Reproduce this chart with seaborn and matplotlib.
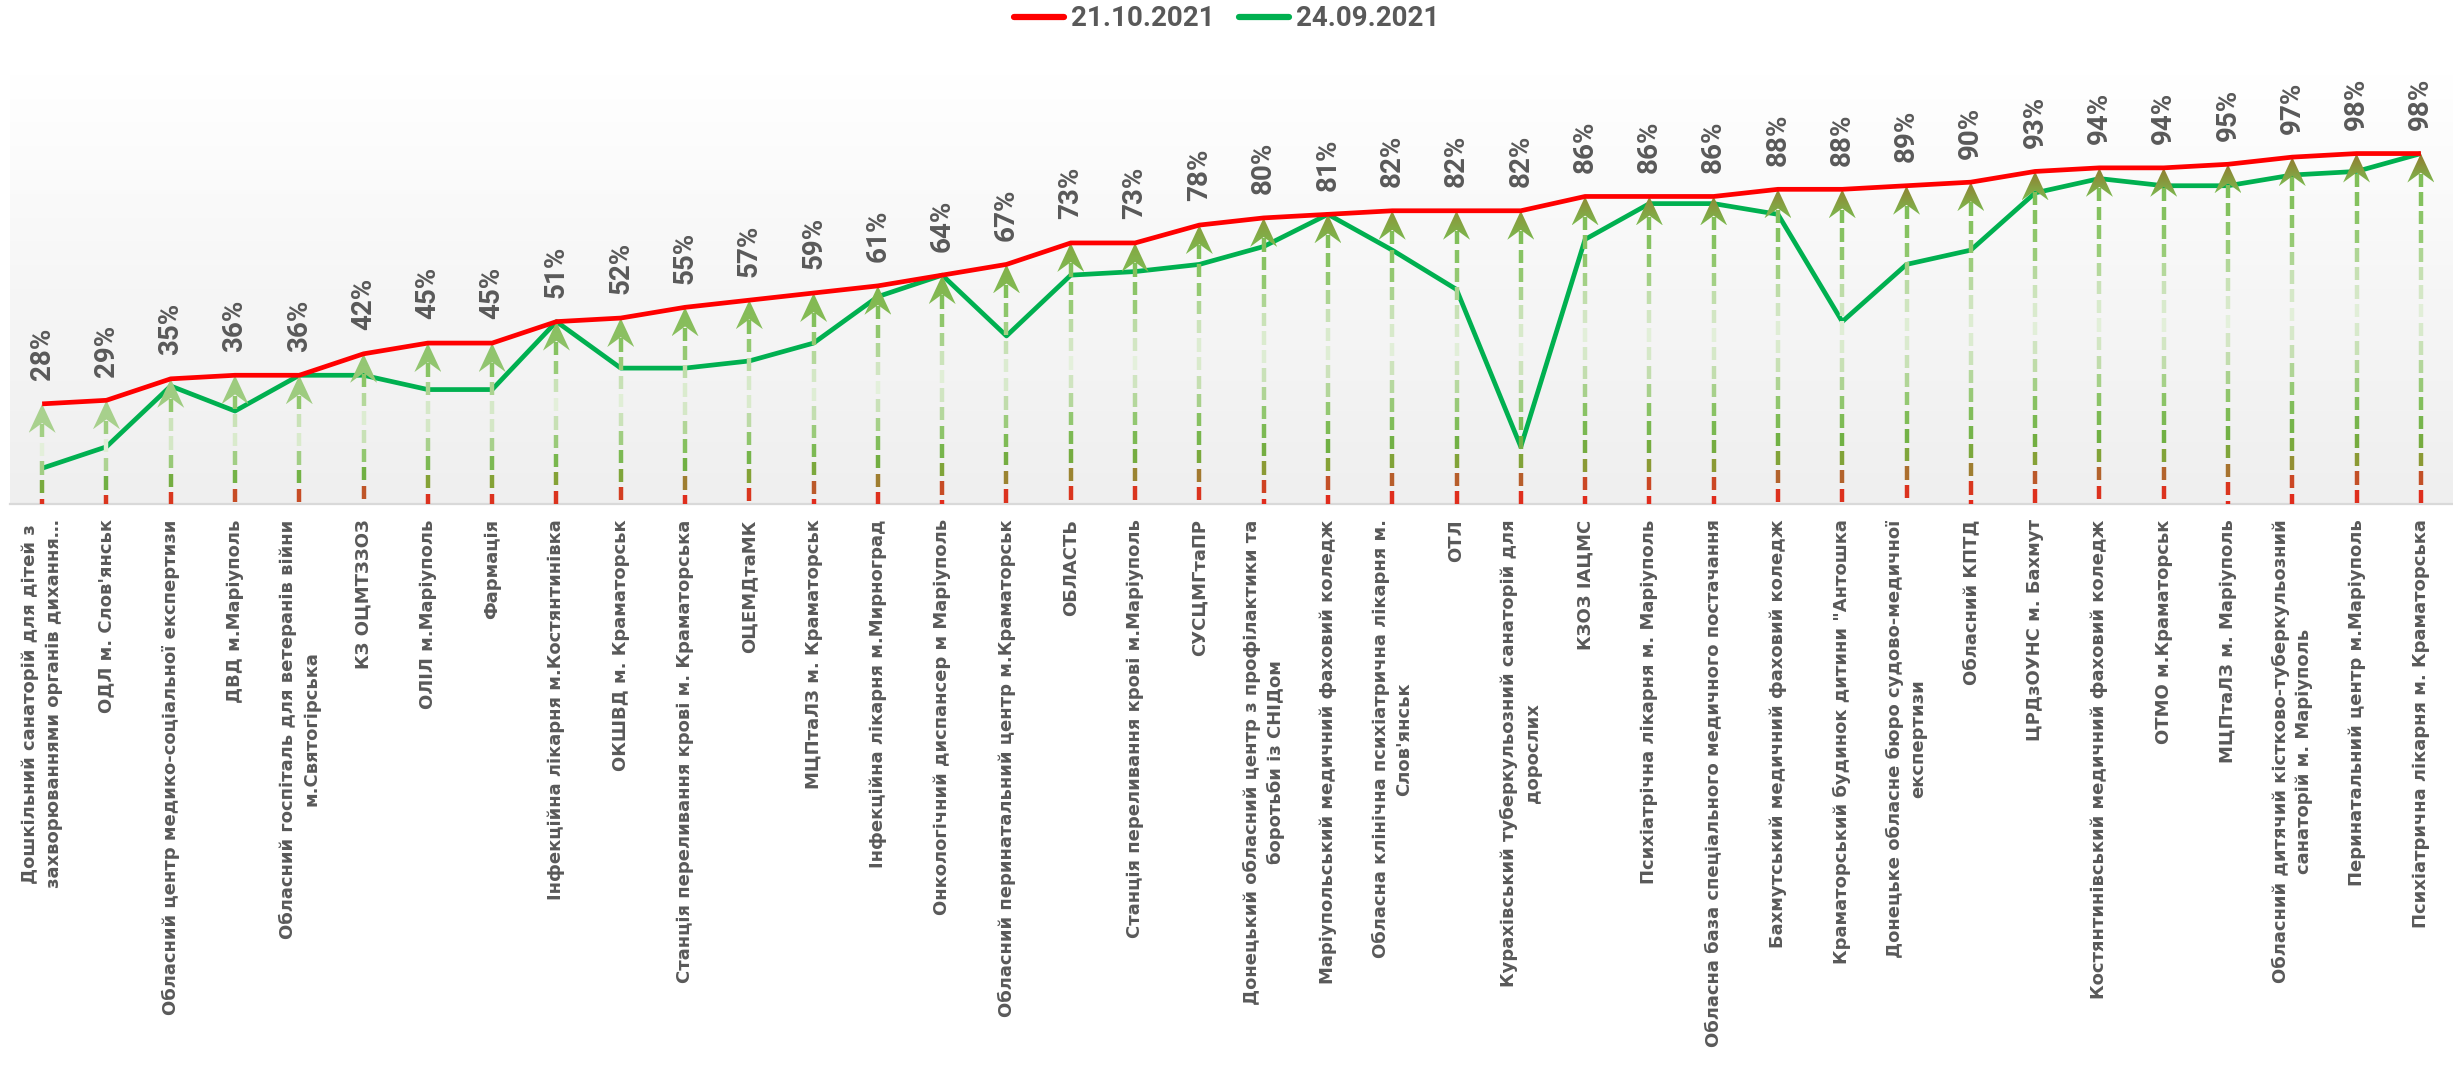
import numpy as np
import pandas as pd
import matplotlib
matplotlib.use("Agg")
import matplotlib.pyplot as plt
import seaborn as sns
from matplotlib.colors import LinearSegmentedColormap, to_rgba
from matplotlib.collections import LineCollection
from matplotlib.patches import Polygon
from matplotlib.lines import Line2D
from matplotlib import font_manager

# ---------------- data ----------------
categories = [
    "Дошкільний санаторій для дітей з\nзахворюваннями органів дихання…",
    "ОДЛ м. Слов'янськ",
    "Обласний центр медико-соціальної експертизи",
    "ДВД м.Маріуполь",
    "Обласний госпіталь для ветеранів війни\nм.Святогірська",
    "КЗ ОЦМТЗЗОЗ",
    "ОЛІЛ м.Маріуполь",
    "Фармація",
    "Інфекційна лікарня м.Костянтинівка",
    "ОКШВД м. Краматорськ",
    "Станція переливання крові м. Краматорська",
    "ОЦЕМДтаМК",
    "МЦПтаЛЗ м. Краматорськ",
    "Інфекційна лікарня м.Мирноград",
    "Онкологічний диспансер м Маріуполь",
    "Обласний перинатальний центр м.Краматорськ",
    "ОБЛАСТЬ",
    "Станція переливання крові м.Маріуполь",
    "СУСЦМГтаПР",
    "Донецький обласний центр з профілактики та\nборотьби із СНІДом",
    "Маріупольський медичний фаховий коледж",
    "Обласна клінічна психіатрична лікарня м.\nСлов'янськ",
    "ОТЛ",
    "Курахівський туберкульозний санаторій для\nдорослих",
    "КЗОЗ ІАЦМС",
    "Психіатрічна лікарня м. Маріуполь",
    "Обласна база спеціального медичного постачання",
    "Бахмутський медичний фаховий коледж",
    "Краматорський будинок дитини \"Антошка",
    "Донецьке обласне бюро судово-медичної\nекспертизи",
    "Обласний КПТД",
    "ЦРДзОУНС м. Бахмут",
    "Костянтинівський медичний фаховий коледж",
    "ОТМО м.Краматорськ",
    "МЦПтаЛЗ м. Маріуполь",
    "Обласний дитячий кістково-туберкульозний\nсанаторій м. Маріуполь",
    "Перинатальний центр м.Маріуполь",
    "Психіатрична лікарня м. Краматорська",
]
values_21_10 = [28, 29, 35, 36, 36, 42, 45, 45, 51, 52, 55, 57, 59, 61, 64, 67, 73, 73,
                78, 80, 81, 82, 82, 82, 86, 86, 86, 88, 88, 89, 90, 93, 94, 94, 95, 97, 98, 98]
values_24_09 = [10, 16, 33, 26, 36, 36, 32, 32, 51, 38, 38, 40, 45, 58, 64, 47, 64, 65,
                67, 72, 81, 71, 60, 16, 74, 84, 84, 81, 51, 67, 71, 87, 91, 89, 89, 92, 93, 98]
series_names = ["21.10.2021", "24.09.2021"]

# ---------------- style ----------------
sns.set_theme(style="white")
available = {f.name for f in font_manager.fontManager.ttflist}
main_font = "Roboto" if "Roboto" in available else "DejaVu Sans"
plt.rcParams['font.family'] = [main_font, 'DejaVu Sans']

RED = "#ff0000"
GREEN = "#00b050"
GREY_TXT = "#595959"

W, H, DPI = 2453, 1080, 100
fig = plt.figure(figsize=(W / DPI, H / DPI), dpi=DPI)
fig.patch.set_facecolor("white")

n = len(categories)
ymax = 1.2
left_px, right_px, base_px = 10, 2453, 504
py_per_unit = 357.6
ax_h_px = ymax * py_per_unit
ax = fig.add_axes([left_px / W, (H - base_px) / H, (right_px - left_px) / W, ax_h_px / H])
px_per_x = (right_px - left_px) / n

idx = np.arange(n)
df = pd.DataFrame({
    "x": np.concatenate([idx, idx]),
    "value": np.array(values_21_10 + values_24_09) / 100.0,
    "series": [series_names[0]] * n + [series_names[1]] * n,
})
d_oct = df[df.series == series_names[0]]
d_sep = df[df.series == series_names[1]]

# background gradient of the plot area
bg = LinearSegmentedColormap.from_list("bg", ["#efefef", "#f6f6f6", "#ffffff"])
ax.imshow(np.linspace(0, 1, 256).reshape(-1, 1), extent=(0, 1, 0, 1), transform=ax.transAxes,
          origin="lower", cmap=bg, aspect="auto", zorder=0, interpolation="bilinear")

# green line (below arrows)
sns.lineplot(data=d_sep, x="x", y="value", color=GREEN, linewidth=3.4, ax=ax, sort=False,
             legend=False, zorder=2, solid_joinstyle="round", solid_capstyle="butt")

# gradient dashed arrows from baseline to the 21.10.2021 value
dash_cmap = LinearSegmentedColormap.from_list("dash", [
    (0.00, "#e3281b"), (0.05, "#d8381f"), (0.085, "#b4612c"), (0.13, "#86a035"),
    (0.20, "#70b043"), (0.30, "#86c160"), (0.42, "#c0dcab"), (0.54, "#e4f0dc"),
    (0.66, "#c6e0b3"), (0.76, "#96ca74"), (0.88, "#82c05c"), (1.00, "#7dbd55")])
head_top = LinearSegmentedColormap.from_list("htop", [
    (0.0, "#a9d18e"), (0.28, "#a9d18e"), (0.45, "#8fc46c"), (0.60, "#82b74f"),
    (0.72, "#85a843"), (0.82, "#8c9438"), (0.90, "#917f30"), (1.0, "#93792e")])
head_bot = LinearSegmentedColormap.from_list("hbot", [
    (0.0, "#a9d18e"), (0.28, "#a9d18e"), (0.45, "#93c671"), (0.60, "#84bc55"),
    (0.80, "#7cb94f"), (1.0, "#7cb94f")])

dash_len = 13.3 / py_per_unit
gap_len = 5.3 / py_per_unit
hw = 27 / px_per_x
hh = 29 / py_per_unit
t = np.linspace(0, 1, 64)[:, None]

for i, v in zip(d_oct.x, d_oct.value):
    top = v - 0.7 * hh
    segs, cols = [], []
    y = top
    while y > 0:
        y0 = max(y - dash_len, 0.0)
        segs.append([(i, y0), (i, y)])
        cols.append(dash_cmap(((y0 + y) / 2) / v))
        y -= dash_len + gap_len
    ax.add_collection(LineCollection(segs, colors=cols, linewidths=3.2,
                                     capstyle="butt", zorder=3))
    top_c = np.array(to_rgba(head_top(v)))
    bot_c = np.array(to_rgba(head_bot(v)))
    arr = (bot_c * (1 - t) + top_c * t)[:, None, :]
    im = ax.imshow(arr, extent=(i - hw / 2, i + hw / 2, v - hh, v), origin="lower",
                   aspect="auto", zorder=3.5, interpolation="bilinear")
    poly = Polygon([(i, v), (i - hw / 2, v - hh), (i, v - 0.66 * hh), (i + hw / 2, v - hh)],
                   closed=True, transform=ax.transData, facecolor="none", edgecolor="none")
    im.set_clip_path(poly)

# red line (on top)
sns.lineplot(data=d_oct, x="x", y="value", color=RED, linewidth=3.4, ax=ax, sort=False,
             legend=False, zorder=4, solid_joinstyle="round", solid_capstyle="butt")

# data labels
for i, v in zip(d_oct.x, d_oct.value):
    ax.annotate(f"{round(v * 100)}%", (i, v), xytext=(0, 17), textcoords="offset points",
                rotation=90, ha="center", va="bottom", fontsize=20, fontweight="bold",
                color=GREY_TXT, zorder=6)

# axes
ax.set_xlim(-0.5, n - 0.5)
ax.set_ylim(0, ymax)
ax.set_xticks(idx)
ax.set_xticklabels(categories, rotation=90, ha="center", va="top", multialignment="center",
                   fontsize=13, fontweight="bold", color=GREY_TXT,
                   family=["DejaVu Sans"], linespacing=1.4)
ax.tick_params(axis="x", length=0, pad=11)
ax.set_yticks([])
ax.set_xlabel("")
ax.set_ylabel("")
for s in ["top", "left", "right"]:
    ax.spines[s].set_visible(False)
ax.spines["bottom"].set_color("#d9d9d9")
ax.spines["bottom"].set_linewidth(1.6)
ax.spines["bottom"].set_zorder(2.5)

# legend
handles = [Line2D([0], [0], color=RED, lw=4.5), Line2D([0], [0], color=GREEN, lw=4.5)]
fig.legend(handles, series_names, loc="center", bbox_to_anchor=(0.5, 1 - 19 / H), ncol=2,
           frameon=False, handlelength=1.8, handletextpad=0.25, columnspacing=0.9,
           prop={"weight": "bold", "size": 20}, labelcolor=GREY_TXT)

fig.savefig("out.png", dpi=DPI)
